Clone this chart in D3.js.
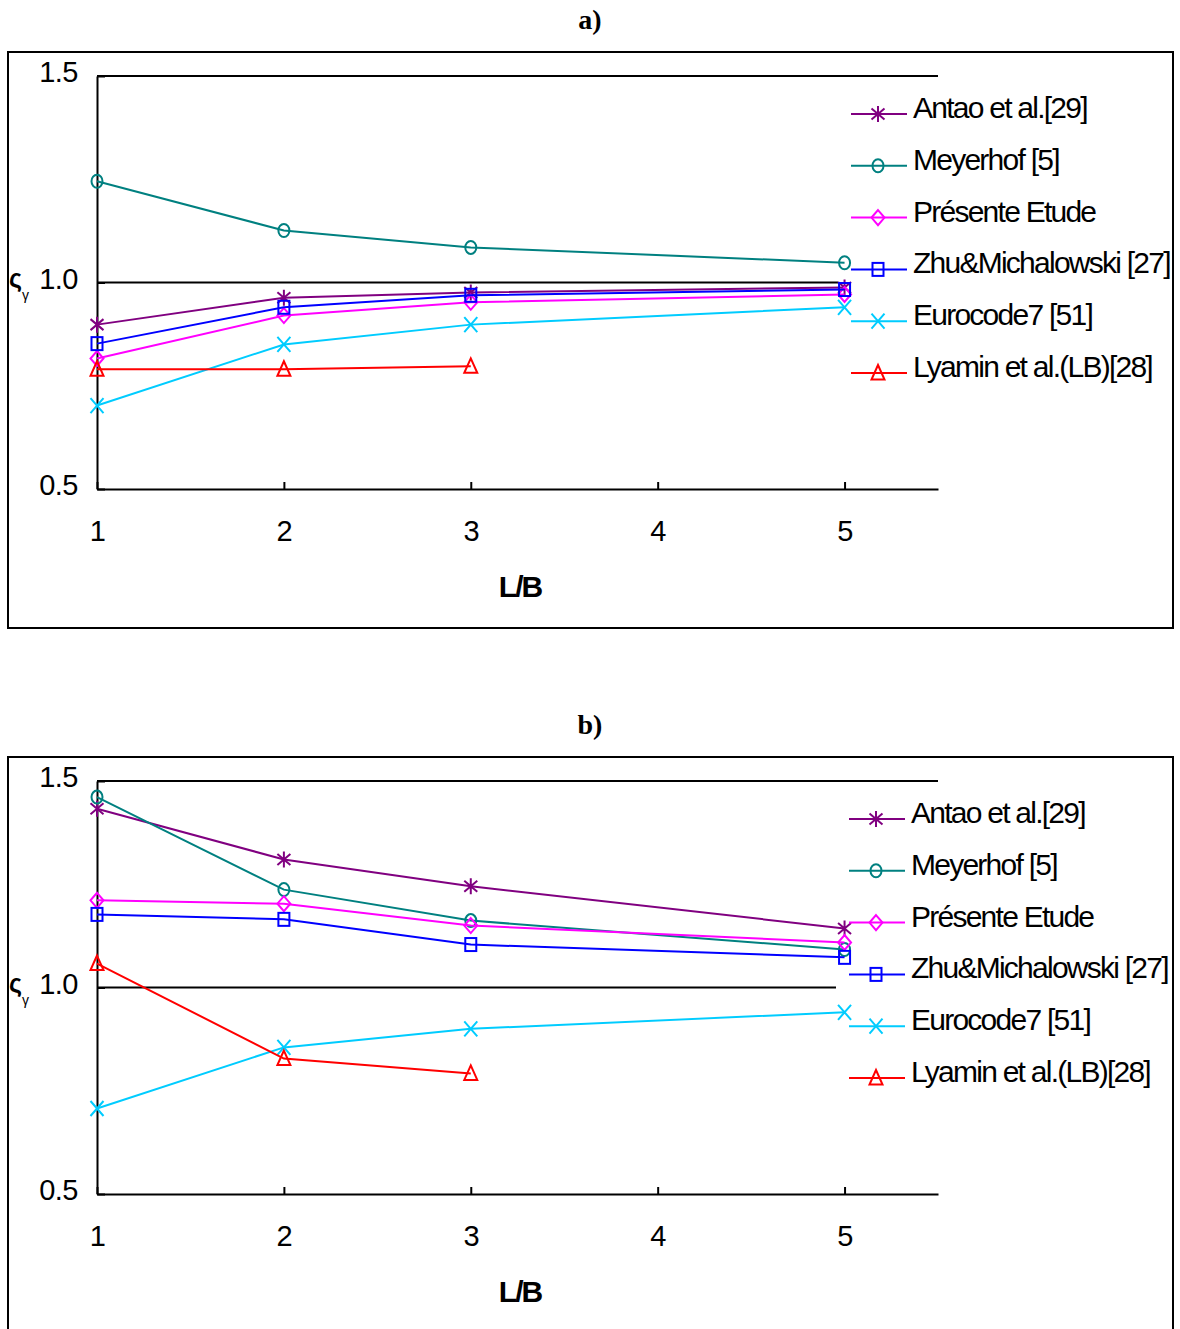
<!DOCTYPE html>
<html>
<head>
<meta charset="utf-8">
<script src="https://cdn.jsdelivr.net/npm/d3@7/dist/d3.min.js"></script>
<style>
  html, body { margin: 0; padding: 0; background: #fff; }
  svg { display: block; }
  text { font-family: "Liberation Sans", Arial, sans-serif; }
</style>
</head>
<body>
<svg id="chart" width="1180" height="1329"></svg>
<script>
// L/B ratios on the horizontal axis
const lbRatios = [1, 2, 3, 5];
const lbTicks = [1, 2, 3, 4, 5];
const yTicks = [0.5, 1.0, 1.5];

const seriesNames = ["Antao et al.[29]", "Meyerhof [5]", "Présente Etude",
                     "Zhu&Michalowski [27]", "Eurocode7 [51]", "Lyamin et al.(LB)[28]"];
const seriesColors = ["#800080", "#008080", "#ff00ff", "#0000ff", "#00ccff", "#ff0000"];
const seriesMarkers = ["star", "circle", "diamond", "square", "cross", "triangle"];

// panel a) shape factor values
const antaoA    = [0.898, 0.963, 0.976, 0.988];
const meyerhofA = [1.245, 1.126, 1.085, 1.048];
const presenteA = [0.816, 0.920, 0.952, 0.971];
const zhuA      = [0.852, 0.940, 0.969, 0.983];
const eurocodeA = [0.702, 0.850, 0.898, 0.940];
const lyaminA   = [0.790, 0.790, 0.797];

// panel b) shape factor values
const antaoB    = [1.433, 1.310, 1.245, 1.143];
const meyerhofB = [1.461, 1.237, 1.162, 1.092];
const presenteB = [1.211, 1.203, 1.150, 1.109];
const zhuB      = [1.177, 1.165, 1.104, 1.073];
const eurocodeB = [0.707, 0.855, 0.900, 0.940];
const lyaminB   = [1.058, 0.828, 0.792];

const panels = [
  { title: "a)", dy: 0,   legendDx: 0,  series: [antaoA, meyerhofA, presenteA, zhuA, eurocodeA, lyaminA] },
  { title: "b)", dy: 705, legendDx: -2, series: [antaoB, meyerhofB, presenteB, zhuB, eurocodeB, lyaminB] }
];

const svg = d3.select("#chart");

function drawMarker(g, type, cx, cy, color) {
  let el;
  if (type === "circle") {
    el = g.append("ellipse").attr("cx", cx).attr("cy", cy).attr("rx", 5.5).attr("ry", 6.5);
  } else if (type === "square") {
    el = g.append("rect").attr("x", cx - 5.5).attr("y", cy - 6.5).attr("width", 11).attr("height", 13);
  } else if (type === "diamond") {
    el = g.append("path").attr("d", `M${cx},${cy - 7.5}L${cx + 6.5},${cy}L${cx},${cy + 7.5}L${cx - 6.5},${cy}Z`);
  } else if (type === "triangle") {
    el = g.append("path").attr("d", `M${cx},${cy - 8}L${cx + 6.5},${cy + 6.5}L${cx - 6.5},${cy + 6.5}Z`);
  } else if (type === "cross") {
    el = g.append("path").attr("d", `M${cx - 6.5},${cy - 7.5}L${cx + 6.5},${cy + 7.5}M${cx + 6.5},${cy - 7.5}L${cx - 6.5},${cy + 7.5}`);
  } else { // star
    el = g.append("path").attr("d",
      `M${cx - 6.5},${cy - 5.5}L${cx + 6.5},${cy + 5.5}M${cx + 6.5},${cy - 5.5}L${cx - 6.5},${cy + 5.5}M${cx},${cy - 8}L${cx},${cy + 8}`);
  }
  el.attr("stroke", color).attr("stroke-width", 2).attr("fill", "none");
}

panels.forEach(panel => {
  const off = panel.dy;
  const g = svg.append("g");

  // panel title
  g.append("text")
    .attr("x", 590).attr("y", 29 + off)
    .attr("text-anchor", "middle")
    .style("font-family", '"Liberation Serif", "Times New Roman", serif')
    .style("font-weight", "bold")
    .style("font-size", "28px")
    .text(panel.title);

  // frame around the chart
  g.append("rect")
    .attr("x", 8).attr("y", 52 + off)
    .attr("width", 1165).attr("height", 576)
    .attr("fill", "none").attr("stroke", "#000").attr("stroke-width", 2);

  const x = d3.scaleLinear().domain([1, 5.5]).range([97, 938]);
  const y = d3.scaleLinear().domain([0.5, 1.5]).range([489 + off, 76 + off]);

  // horizontal gridlines
  g.selectAll(".grid").data([1.0, 1.5]).join("line")
    .attr("x1", x(1)).attr("x2", x(5.5))
    .attr("y1", d => y(d)).attr("y2", d => y(d))
    .attr("stroke", "#000").attr("stroke-width", 2);

  // axes
  const xAxis = g.append("g")
    .attr("transform", `translate(0,${y(0.5)})`)
    .call(d3.axisBottom(x).tickValues(lbTicks).tickFormat(d3.format("d"))
      .tickSize(-7).tickSizeOuter(0).tickPadding(31));
  const yAxis = g.append("g")
    .attr("transform", `translate(${x(1)},0)`)
    .call(d3.axisLeft(y).tickValues(yTicks).tickFormat(d3.format(".1f"))
      .tickSize(-8).tickSizeOuter(0).tickPadding(19));
  [xAxis, yAxis].forEach(ax => {
    ax.select(".domain").attr("stroke", "#000").attr("stroke-width", 2);
    ax.selectAll(".tick line").attr("stroke", "#000").attr("stroke-width", 2);
    ax.selectAll(".tick text")
      .attr("fill", "#000")
      .style("font-family", '"Liberation Sans", Arial, sans-serif')
      .style("font-size", "29px")
      .style("letter-spacing", "-0.5px");
  });
  yAxis.selectAll(".tick text").attr("dy", "0.2em");

  // axis titles
  g.append("text")
    .attr("x", 520).attr("y", 597 + off)
    .attr("text-anchor", "middle")
    .style("font-size", "30px").style("font-weight", "bold")
    .style("letter-spacing", "-2px")
    .text("L/B");
  g.append("text")
    .attr("x", 9).attr("y", 287 + off)
    .style("font-size", "25px").style("font-weight", "bold")
    .text("ς");
  g.append("text")
    .attr("x", 22).attr("y", 300 + off)
    .style("font-size", "14px")
    .text("γ");

  // legend backdrop over the right part of the plot area
  g.append("rect")
    .attr("x", 838 + panel.legendDx).attr("y", 88 + off)
    .attr("width", 333).attr("height", 307)
    .attr("fill", "#fff");

  // series lines and markers
  const line = d3.line().x((d, i) => x(lbRatios[i])).y(d => y(d));
  panel.series.forEach((vals, si) => {
    const color = seriesColors[si];
    g.append("path").datum(vals)
      .attr("d", line)
      .attr("fill", "none").attr("stroke", color).attr("stroke-width", 2);
    const mg = g.append("g");
    vals.forEach((v, i) => drawMarker(mg, seriesMarkers[si], x(lbRatios[i]), y(v), color));
  });

  // legend entries
  const lx = 851 + panel.legendDx;
  seriesNames.forEach((name, si) => {
    const ly = 114 + off + si * 51.8;
    const color = seriesColors[si];
    g.append("line")
      .attr("x1", lx).attr("x2", lx + 56)
      .attr("y1", ly).attr("y2", ly)
      .attr("stroke", color).attr("stroke-width", 2);
    drawMarker(g, seriesMarkers[si], lx + 27, ly, color);
    g.append("text")
      .attr("x", lx + 62).attr("y", ly + 4)
      .style("font-size", "30px")
      .style("letter-spacing", "-1.75px")
      .attr("fill", "#000")
      .text(name);
  });
});
</script>
</body>
</html>
